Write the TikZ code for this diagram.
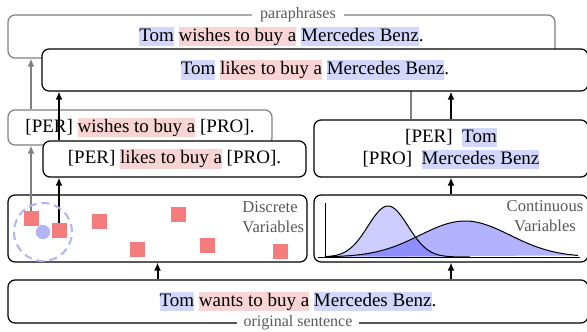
\documentclass[tikz,border=0pt]{standalone}
\usepackage{fontspec}
\setmainfont{Liberation Serif}
\usetikzlibrary{arrows.meta}

\definecolor{hlblue}{RGB}{210,215,251}
\definecolor{hlred}{RGB}{249,212,212}
\definecolor{sqred}{RGB}{244,124,124}
\definecolor{dotblue}{RGB}{177,181,246}

% highlighted words
\newcommand{\hlB}[1]{{\setlength{\fboxsep}{0pt}\colorbox{hlblue}{\rule[-2.4pt]{0pt}{9.7pt}#1}}}
\newcommand{\hlR}[1]{{\setlength{\fboxsep}{0pt}\colorbox{hlred}{\rule[-2.4pt]{0pt}{9.7pt}#1}}}

\begin{document}
\begin{tikzpicture}[x=0.5pt, y=-0.5pt,
    box/.style={draw, rounded corners=3.5pt, fill=white, line width=0.6pt, inner sep=0pt,
        font=\fontsize{9.5}{11}\selectfont},
    graybox/.style={box, draw=black!50},
    tag/.style={fill=white, text=black!65, inner xsep=4pt, inner ysep=1pt,
        font=\fontsize{8}{9}\selectfont},
    arr/.style={line width=1pt, -{Latex[length=4pt, width=3.5pt]}},
    grayarr/.style={arr, black!50},
    sq/.style={fill=sqred, minimum size=7.5pt, inner sep=0pt},
    varlabel/.style={text=black!65, inner sep=0pt, font=\fontsize{8.3}{10}\selectfont}]
    \useasboundingbox (0,0) rectangle (587,331);

    % Paraphrases
    \node[graybox, minimum width=273.5pt, minimum height=21.5pt] (para) at (281.5,36.5)
        {\hlB{Tom} \hlR{wishes to buy a} \hlB{Mercedes Benz}.};
    \node[tag] (paralabel) at (298,15) {paraphrases};

    % Templates and slots
    \node[graybox, minimum width=132pt, minimum height=17.5pt] (wish) at (140,127.5)
        {[PER] \hlR{wishes to buy a} [PRO].};
    \node[box, align=center, minimum width=137pt, minimum height=28.5pt] (slot) at (451,148.5)
        {[PER]\ \ \hlB{Tom}\\{[PRO]}\ \ \hlB{Mercedes Benz}};

    \coordinate (p1) at (31,218);
    \coordinate (p2) at (59,230);
    \draw[grayarr] (p1 |- wish.north) -- (p1 |- para.south);
    \draw[black!50, line width=1pt] ([xshift=-20pt]slot.north) -- ([xshift=-20pt]slot.north |- para.south);

    \node[box, minimum width=273pt, minimum height=21pt] (top) at (315,70)
        {\hlB{Tom} \hlR{likes to buy a} \hlB{Mercedes Benz}.};
    \node[box, minimum width=131.5pt, minimum height=18pt] (like) at (174.5,159)
        {[PER] \hlR{likes to buy a} [PRO].};

    \draw[arr] (p2 |- like.north) -- (p2 |- top.south);
    \draw[arr] (slot.north) -- (slot.north |- top.south);

    % Latent variables
    \node[box, minimum width=149.5pt, minimum height=33.5pt] (disc) at (157.5,228.5) {};
    \node[box, minimum width=137pt, minimum height=33.5pt] (cont) at (451,228.5) {};

    % Original sentence
    \node[box, minimum width=290pt, minimum height=21.5pt] (orig) at (298,301.5)
        {\hlB{Tom} \hlR{wants to buy a} \hlB{Mercedes Benz}.};
    \node[tag, inner xsep=3.5pt] (origlabel) at (298,323) {original sentence};

    \draw[arr] (orig.north -| disc.south) -- (disc.south);
    \draw[arr] (orig.north -| cont.south) -- (cont.south);
    \draw[arr] (cont.north) -- (slot.south);

    % Discrete variables
    \draw[grayarr] (p1) -- (p1 |- wish.south);
    \draw[arr] (p2) -- (p2 |- like.south);
    \draw[dotblue, line width=1pt, dash pattern=on 4pt off 2.5pt] (43,232) circle[radius=14.5pt];
    \fill[dotblue] (43,232) circle[radius=3.6pt];
    \node[sq] (s1) at (p1) {};
    \node[sq] (s2) at (p2) {};
    \node[sq] (s3) at (99,221) {};
    \node[sq] (s4) at (178,214) {};
    \node[sq] (s5) at (137,249) {};
    \node[sq] (s6) at (207,245) {};
    \node[sq] (s7) at (280,251) {};
    \node[varlabel, align=left, anchor=north west] (disclabel) at (242,201) {Discrete\\Variables};

    % Continuous variables
    \fill[blue!20] plot[domain=325:470, samples=80] (\x, {257-51*exp(-((\x-388)/20)^2/2)}) -- cycle;
    \fill[blue, fill opacity=0.3] plot[domain=330:578, samples=80] (\x, {257-36*exp(-((\x-465)/45)^2/2)}) -- cycle;
    \draw[line width=0.5pt] plot[domain=325:470, samples=80] (\x, {257-51*exp(-((\x-388)/20)^2/2)});
    \draw[line width=0.5pt] plot[domain=330:578, samples=80] (\x, {257-36*exp(-((\x-465)/45)^2/2)});
    \draw[line width=0.5pt] (325,203) -- (325,258);
    \draw[line width=0.5pt] (318,257) -- (580,257);
    \node[varlabel, align=center, anchor=north] (contlabel) at (545,200) {Continuous\\Variables};
\end{tikzpicture}
\end{document}
